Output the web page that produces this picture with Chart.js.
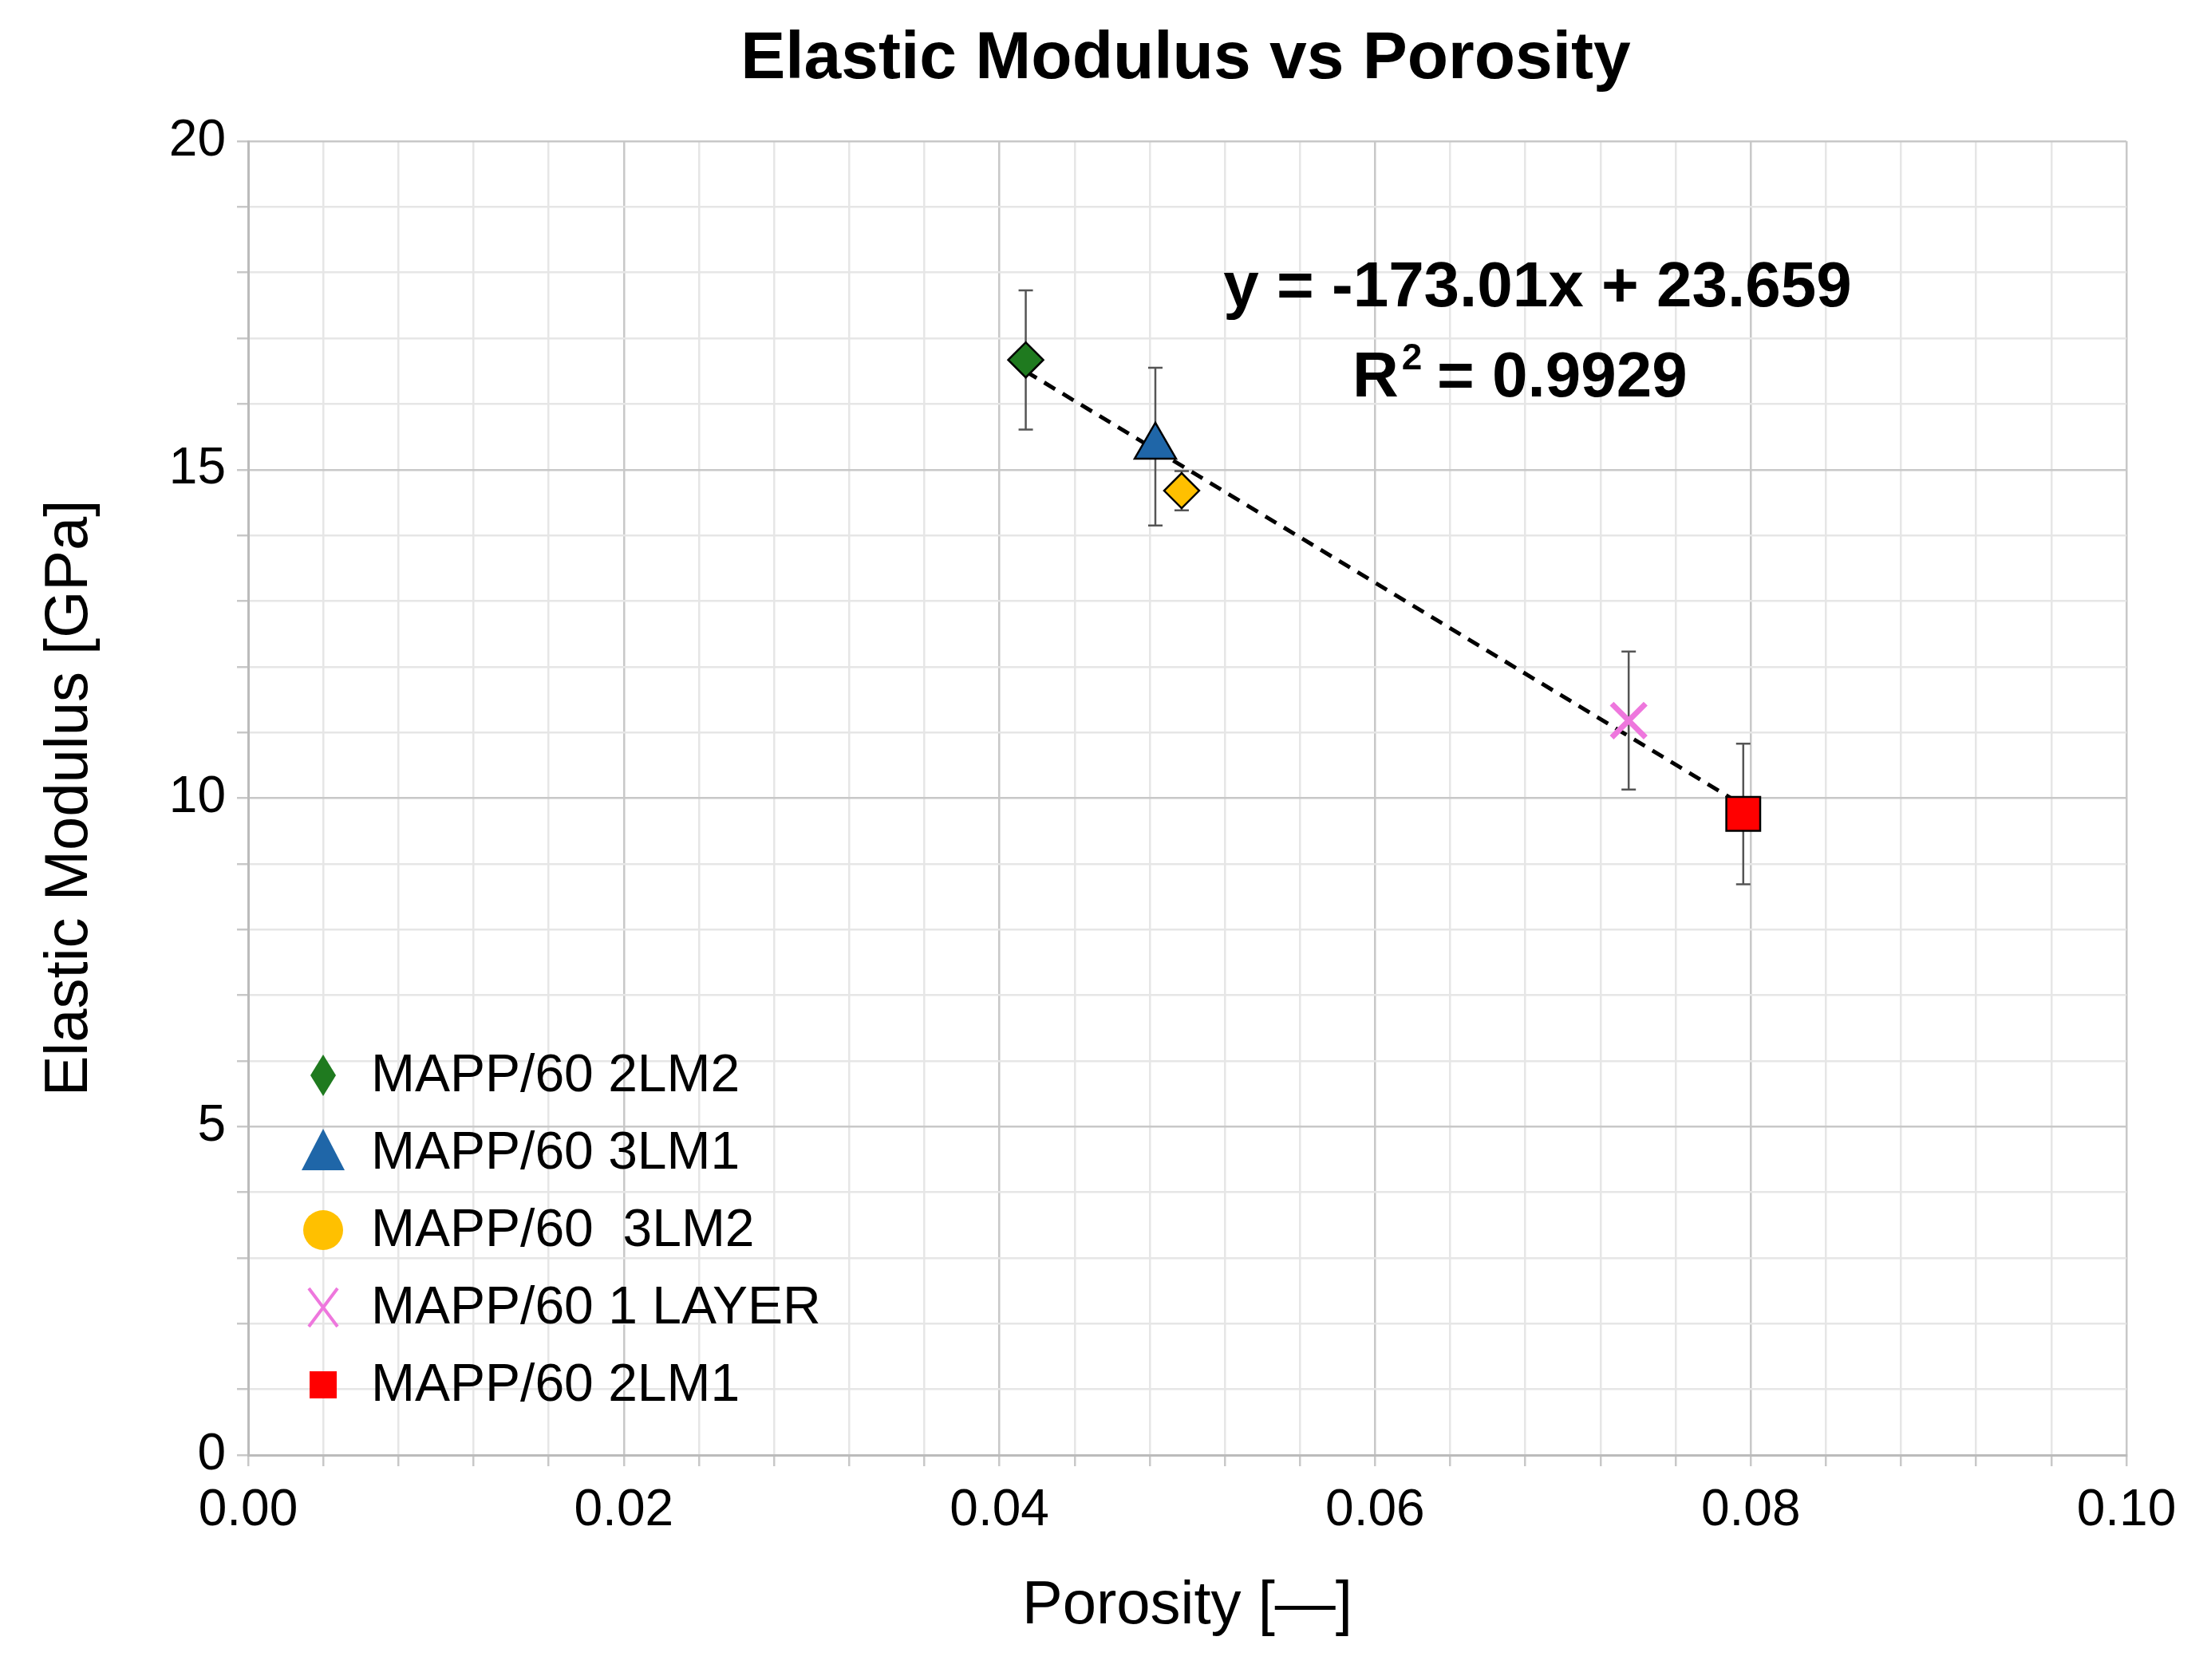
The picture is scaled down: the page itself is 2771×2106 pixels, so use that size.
<!DOCTYPE html>
<html><head><meta charset="utf-8">
<script src="https://cdn.jsdelivr.net/npm/chart.js@4"></script>
<style>html,body{margin:0;padding:0;background:#fff}#c{display:block}</style>
</head><body>
<canvas id="c" width="2771" height="2106"></canvas>
<script>
const seriesNames = ["MAPP/60 2LM2","MAPP/60 3LM1","MAPP/60  3LM2","MAPP/60 1 LAYER","MAPP/60 2LM1"];
const porosity = [0.0414,0.0483,0.0497,0.0735,0.0796];
const modulus = [16.67,15.35,14.68,11.18,9.76];
const errors = [1.06,1.2,0.3,1.05,1.07];
const colors = ["#1f7a1f","#1f66a8","#ffc000","#ee77dd","#ff0000"];
const styles = ["rectRot","triangle","rectRot","crossRot","rect"];
const radii = [22,30,22,30,30];
const trendSlope = -173.01, trendIntercept = 23.659;
const xTicks = [0,0.02,0.04,0.06,0.08,0.10];
const yTicks = [0,5,10,15,20];
const FONT = "'Liberation Sans', Arial, sans-serif";

const datasets = seriesNames.map((n,i)=>({
  label:n, data:[{x:porosity[i],y:modulus[i]}],
  pointStyle:styles[i], pointRadius:radii[i],
  backgroundColor:colors[i],
  borderColor: styles[i]==="crossRot"?colors[i]:"#000",
  borderWidth: styles[i]==="crossRot"?7:2.5, order:1
}));
datasets.push({label:"trend",type:"line",
  data:[{x:porosity[0],y:trendSlope*porosity[0]+trendIntercept},{x:porosity[4],y:trendSlope*porosity[4]+trendIntercept}],
  borderColor:"#000",borderWidth:5,borderDash:[16,11],pointRadius:0,order:5});

const extras = {
  id:"extras",
  beforeDatasetsDraw(ch){
    const c=ch.ctx, xs=ch.scales.x, ys=ch.scales.y;
    c.save(); c.strokeStyle="#555"; c.lineWidth=2.5;
    porosity.forEach((p,i)=>{
      const px=xs.getPixelForValue(p), t=ys.getPixelForValue(modulus[i]+errors[i]), b=ys.getPixelForValue(modulus[i]-errors[i]);
      c.beginPath(); c.moveTo(px,t); c.lineTo(px,b);
      c.moveTo(px-9,t); c.lineTo(px+9,t); c.moveTo(px-9,b); c.lineTo(px+9,b); c.stroke();
    });
    c.restore();
  },
  afterDraw(ch){
    const c=ch.ctx; c.save();
    c.fillStyle="#000"; c.textAlign="center"; c.textBaseline="middle";
    c.font="bold 84px "+FONT;
    c.fillText("Elastic Modulus vs Porosity",1486,75);
    c.font="bold 80px "+FONT;
    c.fillText("y = -173.01x + 23.659",1927,362);
    c.textAlign="left";
    c.fillText("R",1695,475);
    const rw=c.measureText("R").width;
    c.font="bold 46px "+FONT; c.fillText("2",1695+rw+4,450);
    c.font="bold 80px "+FONT; c.fillText(" = 0.9929",1695+rw+26,475);
    c.font="66px "+FONT;
    const lx=405, ly0=1348, dy=97;
    seriesNames.forEach((n,i)=>{
      const y=ly0+i*dy;
      c.fillStyle=colors[i]; c.strokeStyle=colors[i];
      c.beginPath();
      if(i===0){c.moveTo(lx,y-26);c.lineTo(lx+16,y);c.lineTo(lx,y+26);c.lineTo(lx-16,y);c.closePath();c.fill();}
      else if(i===1){c.moveTo(lx,y-30);c.lineTo(lx+27,y+22);c.lineTo(lx-27,y+22);c.closePath();c.fill();}
      else if(i===2){c.arc(lx,y,25,0,Math.PI*2);c.fill();}
      else if(i===3){c.lineWidth=4;c.moveTo(lx-18,y-24);c.lineTo(lx+18,y+24);c.moveTo(lx+18,y-24);c.lineTo(lx-18,y+24);c.stroke();}
      else {c.fillRect(lx-17,y-17,34,34);}
      c.fillStyle="#000"; c.fillText(n,465,y+2);
    });
    c.restore();
  }
};

new Chart(document.getElementById("c"),{
  type:"scatter",
  data:{datasets},
  options:{
    responsive:false, animation:false, devicePixelRatio:1,
    layout:{padding:{top:177,right:106,left:38,bottom:42}},
    plugins:{legend:{display:false},tooltip:{enabled:false}},
    scales:{
      x:{type:"linear",min:0,max:0.1,
        afterBuildTicks(s){const t=[];for(let i=0;i<=25;i++)t.push({value:+(i*0.004).toFixed(3)});s.ticks=t;},
        afterFit(s){s.height=240;},
        grid:{color:(ctx)=>Math.abs(ctx.tick.value/0.02-Math.round(ctx.tick.value/0.02))<1e-6?"#c8c8c8":"#e6e6e6",lineWidth:2.5,tickLength:14,tickColor:"#c8c8c8"},
        border:{color:"#bbbbbb",width:3},
        ticks:{autoSkip:false,maxRotation:0,padding:18,color:"#000",font:{size:64,family:FONT},
          callback(v){const k=v/0.02;return Math.abs(k-Math.round(k))<1e-6?v.toFixed(2):"";}},
        title:{display:true,text:"Porosity [—]",color:"#000",font:{size:76,family:FONT},padding:{top:0}}
      },
      y:{type:"linear",min:0,max:20,
        afterBuildTicks(s){const t=[];for(let i=0;i<=20;i++)t.push({value:i});s.ticks=t;},
        afterFit(s){s.width=273;},
        grid:{color:(ctx)=>ctx.tick.value%5===0?"#c8c8c8":"#e6e6e6",lineWidth:2.5,tickLength:14,tickColor:"#c8c8c8"},
        border:{color:"#bbbbbb",width:3},
        ticks:{autoSkip:false,padding:14,color:"#000",font:{size:64,family:FONT},
          callback(v){return v%5===0?String(v):"";}},
        title:{display:true,text:"Elastic Modulus [GPa]",color:"#000",font:{size:76,family:FONT},padding:{bottom:10}}
      }
    }
  },
  plugins:[extras]
});
</script>
</body></html>
